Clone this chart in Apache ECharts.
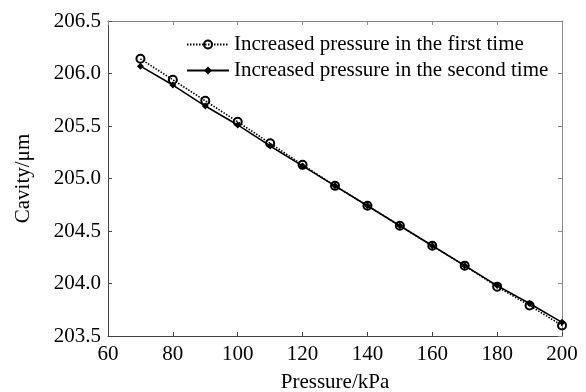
<!DOCTYPE html>
<html>
<head>
<meta charset="utf-8">
<script src="https://cdn.jsdelivr.net/npm/echarts@6/dist/echarts.min.js"></script>
<style>html,body{margin:0;padding:0;background:#fff;}#c{width:586px;height:392px;}</style>
</head>
<body>
<div id="c"></div>
<script>
const pressure = [70, 80, 90, 100, 110, 120, 130, 140, 150, 160, 170, 180, 190, 200];
const firstTime = [206.14, 205.94, 205.74, 205.54, 205.335, 205.13, 204.93, 204.74, 204.55, 204.36, 204.17, 203.97, 203.79, 203.60];
const secondTime = [206.07, 205.89, 205.69, 205.51, 205.31, 205.12, 204.93, 204.74, 204.55, 204.36, 204.17, 203.98, 203.81, 203.63];
const seriesNames = ['Increased pressure in the first time', 'Increased pressure in the second time'];
const xName = 'Pressure/kPa';
const yName = 'Cavity/\u03bcm';

const font = 'Liberation Serif';
const chart = echarts.init(document.getElementById('c'));
const pair = a => pressure.map((p, i) => [p, a[i]]);
chart.setOption({
  animation: false,
  backgroundColor: '#fff',
  textStyle: { fontFamily: font, color: '#000' },
  grid: { left: 108, right: 24, top: 21, bottom: 56, containLabel: false, outerBoundsMode: 'none' },
  legend: {
    left: 181, top: 29, orient: 'vertical', itemGap: 5,
    itemWidth: 42, itemHeight: 10,
    textStyle: { fontFamily: font, fontSize: 21, color: '#000' },
    data: seriesNames
  },
  xAxis: [{
    type: 'value', min: 60, max: 200, interval: 20,
    name: xName, nameLocation: 'middle', nameGap: 36,
    nameTextStyle: { fontFamily: font, fontSize: 21, color: '#000' },
    axisLine: { lineStyle: { color: '#444', width: 1 } },
    axisTick: { inside: true, length: 4, lineStyle: { color: '#444' } },
    axisLabel: { fontFamily: font, fontSize: 21, color: '#000', margin: 8 },
    splitLine: { show: false }
  }, {
    type: 'value', min: 60, max: 200, interval: 20, position: 'top',
    axisLine: { show: true, lineStyle: { color: '#888', width: 1 } },
    axisTick: { inside: true, length: 4, lineStyle: { color: '#888' } },
    axisLabel: { show: false }, splitLine: { show: false }
  }],
  yAxis: [{
    type: 'value', min: 203.5, max: 206.5, interval: 0.5,
    name: yName, nameLocation: 'middle', nameGap: 74,
    nameTextStyle: { fontFamily: font, fontSize: 21, color: '#000' },
    axisLine: { show: true, lineStyle: { color: '#444', width: 1 } },
    axisTick: { show: true, inside: true, length: 4, lineStyle: { color: '#444' } },
    axisLabel: { fontFamily: font, fontSize: 21, color: '#000', margin: 7, formatter: v => v.toFixed(1) },
    splitLine: { show: false }
  }, {
    type: 'value', min: 203.5, max: 206.5, interval: 0.5, position: 'right',
    axisLine: { show: true, lineStyle: { color: '#888', width: 1 } },
    axisTick: { show: true, inside: true, length: 4, lineStyle: { color: '#888' } },
    axisLabel: { show: false }, splitLine: { show: false }
  }],
  series: [{
    name: seriesNames[1], type: 'line', data: pair(secondTime), z: 2,
    symbol: 'diamond', symbolSize: 7,
    lineStyle: { color: '#000', width: 1.6, type: 'solid' },
    itemStyle: { color: '#000' }
  }, {
    name: seriesNames[0], type: 'line', data: pair(firstTime), z: 3,
    symbol: 'circle', symbolSize: 8,
    lineStyle: { color: '#000', width: 1.6, type: [1.5, 1.5] },
    itemStyle: { color: 'rgba(255,255,255,0)', borderColor: '#000', borderWidth: 2 }
  }]
});
</script>
</body>
</html>
